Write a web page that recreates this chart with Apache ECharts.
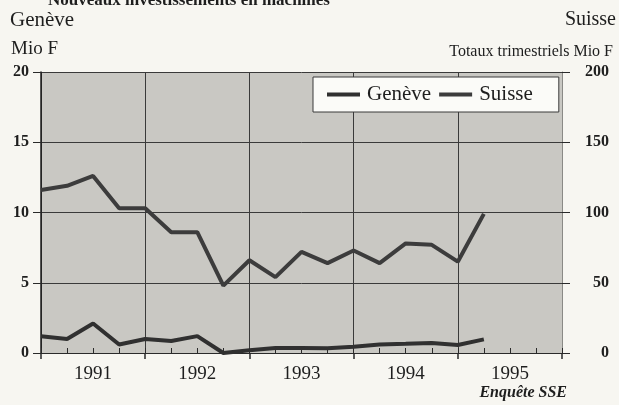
<!DOCTYPE html>
<html>
<head>
<meta charset="utf-8">
<title>Nouveaux investissements en machines</title>
<script src="https://cdn.jsdelivr.net/npm/echarts@6/dist/echarts.min.js"></script>
<style>
    html, body { margin: 0; padding: 0; background: #f7f6f1; }
    #container { width: 619px; height: 405px; }
</style>
</head>
<body>
<div id="container"></div>
<script>
    // valeurs trimestrielles, debut 1991 T1 -> 1995 T2
    var years = ['1991', '1992', '1993', '1994', '1995'];
    var geneve = [1.2, 1.0, 2.1, 0.6, 1.0, 0.85, 1.2, 0.0, 0.2, 0.35, 0.35, 0.33, 0.45, 0.6, 0.65, 0.72, 0.57, 0.97];
    var suisse = [116, 119, 126, 103, 103, 86, 86, 48, 66, 54, 72, 64, 73, 64, 78, 77, 65, 99];
    var leftTicks = [0, 5, 10, 15, 20];
    var rightTicks = [0, 50, 100, 150, 200];

    var serif = '"Liberation Serif", "DejaVu Serif", serif';
    var ink = '#1e1e1e';

    function pairs(arr) {
        var out = [];
        for (var i = 0; i < arr.length; i++) {
            out.push([i, arr[i]]);
        }
        return out;
    }

    var myChart = echarts.init(document.getElementById('container'));
    var option = {
        backgroundColor: '#f7f6f1',
        animation: false,
        grid: {
            left: 41, right: 57, top: 72, bottom: 52,
            show: true, backgroundColor: '#c9c8c3', borderWidth: 0
        },
        legend: {
            left: 313, top: 77,
            padding: [7, 26, 7, 14],
            backgroundColor: '#fbfbf8',
            borderColor: '#3a3a3a',
            borderWidth: 1,
            itemWidth: 33, itemHeight: 4, itemGap: 8,
            icon: 'rect',
            textStyle: { fontFamily: serif, fontSize: 21, color: ink, padding: [0, 0, 0, 2] },
            data: ['Genève', 'Suisse']
        },
        xAxis: [{
            // annees : grille verticale + traits vers le bas
            type: 'value', min: 0, max: 20, interval: 4,
            axisLine: { show: true, onZero: false, lineStyle: { color: '#2a2a2a', width: 1 } },
            axisTick: { show: true, length: 6, lineStyle: { color: '#2a2a2a', width: 1.5 } },
            axisLabel: { show: false },
            splitLine: { show: true, lineStyle: { color: '#3a3a3a', width: 1 } }
        }, {
            // trimestres : petits traits vers le haut
            type: 'value', min: 0, max: 20, interval: 1, position: 'bottom',
            axisLine: { show: false, onZero: false },
            axisTick: { show: true, inside: true, length: 5, lineStyle: { color: '#2a2a2a', width: 1 } },
            axisLabel: { show: false },
            splitLine: { show: false }
        }, {
            type: 'category', data: years, boundaryGap: true, position: 'bottom',
            axisLine: { show: false, onZero: false },
            axisTick: { show: false },
            axisLabel: { margin: 12, fontFamily: serif, fontSize: 19, color: ink }
        }],
        yAxis: [{
            type: 'value', min: leftTicks[0], max: leftTicks[leftTicks.length - 1], interval: 5,
            axisLine: { show: true, onZero: false, lineStyle: { color: '#1e1e1e', width: 1.5 } },
            axisTick: { show: true, length: 8, lineStyle: { color: '#2a2a2a' } },
            axisLabel: { margin: 12, fontFamily: serif, fontSize: 16, fontWeight: 'bold', color: ink },
            splitLine: { show: true, lineStyle: { color: '#3a3a3a', width: 1 } }
        }, {
            type: 'value', min: rightTicks[0], max: rightTicks[rightTicks.length - 1], interval: 50,
            position: 'right',
            axisLine: { show: true, onZero: false, lineStyle: { color: '#8a8a86', width: 1 } },
            axisTick: { show: true, length: 8, lineStyle: { color: '#2a2a2a' } },
            axisLabel: { margin: 47, fontFamily: serif, fontSize: 16, fontWeight: 'bold', color: ink,
                         align: 'right' },
            splitLine: { show: false }
        }],
        series: [{
            name: 'Genève', type: 'line', xAxisIndex: 0, yAxisIndex: 0,
            data: pairs(geneve), showSymbol: false,
            lineStyle: { color: '#303030', width: 4 }, itemStyle: { color: '#303030' }
        }, {
            name: 'Suisse', type: 'line', xAxisIndex: 0, yAxisIndex: 1,
            data: pairs(suisse), showSymbol: false,
            lineStyle: { color: '#3c3c3c', width: 4 }, itemStyle: { color: '#3c3c3c' }
        }],
        graphic: [
            { type: 'text', left: 48, top: -8, style: { text: 'Nouveaux investissements en machines', font: 'bold 17px ' + serif, fill: ink } },
            { type: 'text', left: 10, top: 10, style: { text: 'Genève', font: '21px ' + serif, fill: ink } },
            { type: 'text', right: 3, top: 10, style: { text: 'Suisse', font: '20px ' + serif, fill: ink } },
            { type: 'text', left: 11, top: 40, style: { text: 'Mio F', font: '19px ' + serif, fill: ink } },
            { type: 'text', right: 6, top: 44, style: { text: 'Totaux trimestriels Mio F', font: '16px ' + serif, fill: ink } },
            { type: 'text', right: 52, top: 385, style: { text: 'Enquête SSE', font: 'italic bold 16px ' + serif, fill: ink } }
        ]
    };
    myChart.setOption(option);
</script>
</body>
</html>
